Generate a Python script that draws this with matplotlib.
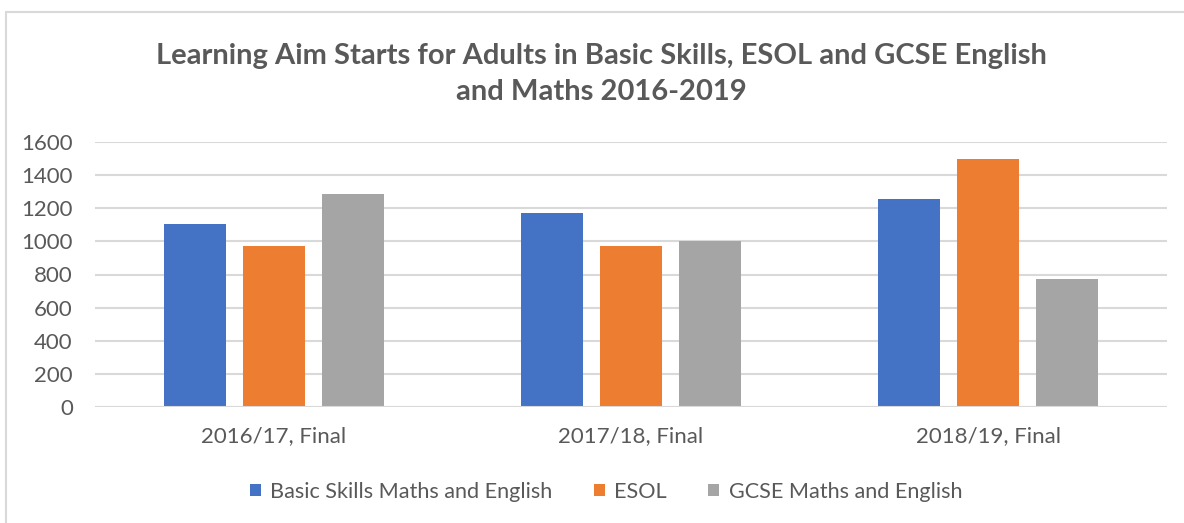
import matplotlib
matplotlib.use("Agg")
import matplotlib.pyplot as plt
from matplotlib.patches import Rectangle, Patch
import numpy as np

categories = ["2016/17, Final", "2017/18, Final", "2018/19, Final"]
series_names = ["Basic Skills Maths and English", "ESOL", "GCSE Maths and English"]
basic_skills = [1105, 1170, 1255]
esol = [975, 975, 1495]
gcse = [1287, 1001, 772]
yticks = [0, 200, 400, 600, 800, 1000, 1200, 1400, 1600]
colors = ["#4472C4", "#ED7D31", "#A5A5A5"]
title = "Learning Aim Starts for Adults in Basic Skills, ESOL and GCSE English\nand Maths 2016-2019"

W, H = 1184, 523
plt.rcParams["font.family"] = ["Lato", "DejaVu Sans"]
text_color = "#595959"
grid_color = "#D9D9D9"

fig = plt.figure(figsize=(W / 100, H / 100), dpi=100)
fig.patch.set_facecolor("white")

# chart frame (runs off the right and bottom edges)
fig.add_artist(Rectangle((6 / W, -0.1), 1.2, 1 - 12 / H + 0.1,
                         transform=fig.transFigure, fill=False,
                         edgecolor="#D9D9D9", linewidth=1.5))

ax = fig.add_axes([95 / W, 1 - 407 / H, (1167 - 95) / W, (407 - 142) / H])
x = np.arange(len(categories))
width = 0.174
offset = 0.221
for i, (vals, c, name) in enumerate(zip([basic_skills, esol, gcse], colors, series_names)):
    ax.bar(x + (i - 1) * offset, vals, width=width, color=c, label=name, zorder=3)

ax.set_xlim(-0.5, 2.5)
ax.set_ylim(0, 1600)
ax.set_yticks(yticks)
ax.set_yticklabels([str(v) for v in yticks])
ax.set_xticks(x)
ax.set_xticklabels(categories)
ax.tick_params(axis="both", length=0, labelsize=16, labelcolor=text_color)
ax.tick_params(axis="y", pad=16)
ax.tick_params(axis="x", pad=14)
ax.grid(axis="y", color=grid_color, linewidth=1.5, zorder=0)
for s in ax.spines.values():
    s.set_visible(False)
ax.axhline(0, color=grid_color, linewidth=1.5, zorder=4)

fig.text(601 / W, 1 - 74 / H, title, ha="center", va="center", fontsize=21,
         fontweight="bold", color=text_color, linespacing=1.45)

handles = [Patch(facecolor=c, edgecolor="none") for c in colors]
fig.legend(handles, series_names, loc="center", bbox_to_anchor=(606 / W, 1 - 492 / H),
           ncol=3, frameon=False, fontsize=15.6, labelcolor=text_color,
           handlelength=0.5, handleheight=0.5, handletextpad=0.45, columnspacing=1.9)

fig.savefig("out.png", dpi=100)
